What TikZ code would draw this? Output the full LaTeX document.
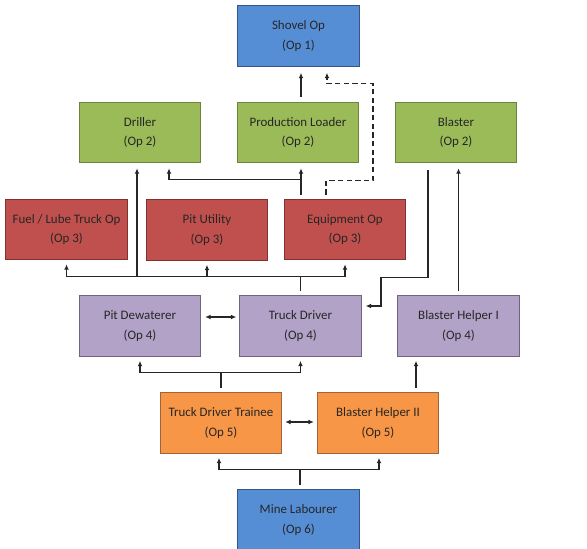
\documentclass[tikz,border=0pt]{standalone}
\usepackage{fontspec}
\setmainfont{Carlito}
\usepackage{xcolor}
\usetikzlibrary{calc,arrows.meta}

\definecolor{opblue}{RGB}{85,142,213}
\definecolor{opblueline}{RGB}{52,86,130}
\definecolor{opgreen}{RGB}{155,187,89}
\definecolor{opgreenline}{RGB}{108,130,62}
\definecolor{opred}{RGB}{192,80,77}
\definecolor{opredline}{RGB}{128,50,48}
\definecolor{oppurple}{RGB}{178,162,199}
\definecolor{oppurpleline}{RGB}{112,100,128}
\definecolor{oporange}{RGB}{247,150,70}
\definecolor{oporangeline}{RGB}{160,100,56}

\begin{document}
\begin{tikzpicture}[x=0.75pt, y=-0.75pt,
    opbox/.style={draw, line width=0.8pt, minimum width=91pt, minimum height=45.5pt,
        align=center, text=black!85, font=\fontsize{9.7}{14.5}\selectfont, inner sep=2pt},
    op1/.style={opbox, fill=opblue, draw=opblueline},
    op2/.style={opbox, fill=opgreen, draw=opgreenline},
    op3/.style={opbox, fill=opred, draw=opredline},
    op4/.style={opbox, fill=oppurple, draw=oppurpleline},
    op5/.style={opbox, fill=oporange, draw=oporangeline},
    link/.style={line width=0.9pt, black!85},
    arr/.style={link, -{Latex[length=4pt,width=3.6pt]}},
    dbl/.style={link, {Latex[length=4pt,width=3.6pt]}-{Latex[length=4pt,width=3.6pt]}},
    dasharr/.style={arr, dash pattern=on 4pt off 2.5pt}]
    \useasboundingbox (0,0) rectangle (587,549);

    \node[op1] (shovel) at (298.5,36) {Shovel Op\\(Op 1)};
    \node[op2] (driller) at (140,132.5) {Driller\\(Op 2)};
    \node[op2] (loader) at (298,132.5) {Production Loader\\(Op 2)};
    \node[op2] (blaster) at (456,132.5) {Blaster\\(Op 2)};
    \node[op3] (fuel) at (66.5,229.5) {Fuel / Lube Truck Op\\(Op 3)};
    \node[op3] (utility) at (207,230) {Pit Utility\\(Op 3)};
    \node[op3] (equip) at (345,229.5) {Equipment Op\\(Op 3)};
    \node[op4] (dewater) at (140,326) {Pit Dewaterer\\(Op 4)};
    \node[op4] (truck) at (300.5,326) {Truck Driver\\(Op 4)};
    \node[op4] (helperi) at (458.5,326) {Blaster Helper I\\(Op 4)};
    \node[op5] (trainee) at (221,423) {Truck Driver Trainee\\(Op 5)};
    \node[op5] (helperii) at (378,423) {Blaster Helper II\\(Op 5)};
    \node[op1] (labourer) at (298.5,520) {Mine Labourer\\(Op 6)};

    \draw[arr] ($(loader.north)+(3,-5)$) -- ($(loader.north |- shovel.south)+(3,6)$);
    \draw[dasharr] ($(equip.north)+(-19,-4)$) -- ++(0,-14) -- ++(47,0) -- ++(0,-97) -| ($(shovel.south)+(28.5,6)$);
    \draw[arr] ($(equip.north)+(-44,-4)$) -- ($(loader.south)+(3,5)$);
    \draw[arr] ($(loader.south)+(3,16)$) -| ($(driller.south)+(29,5)$);

    \draw[link] ($(truck.north)+(0,-4)$) -- ++(0,-15) coordinate (hubtruck);
    \draw[arr] (hubtruck) -| ($(fuel.south)+(0,4)$);
    \draw[arr] (hubtruck) -| ($(equip.south)+(0,4)$);
    \draw[arr] (hubtruck -| utility.south) -- ($(utility.south)+(0,4)$);
    \draw[arr] ($(hubtruck -| driller.south)+(-3,0)$) -- ($(driller.south)+(-3,5)$);

    \draw[arr] ($(blaster.south)+(-28,7)$) -- ++(0,107) -- ++(-47,0) |- ($(truck.east)+(4,-20)$);
    \draw[arr] ($(helperi.north)+(0,-4)$) -- ($(helperi.north |- blaster.south)+(0,5)$);
    \draw[dbl] ($(dewater.east)+(4,-9)$) -- ($(truck.west)+(-3,-9)$);

    \draw[link] ($(trainee.north)+(0,-4)$) -- ++(0,-16) coordinate (hubtrainee);
    \draw[arr] (hubtrainee) -| ($(dewater.south)+(0,4)$);
    \draw[arr] (hubtrainee) -| ($(truck.south)+(0,4)$);
    \draw[arr] ($(helperii.north)+(38,-4)$) -- ($(helperi.south)+(-42.5,4)$);
    \draw[dbl] ($(trainee.east)+(3,-1)$) -- ($(helperii.west)+(-3,-1)$);

    \draw[link] ($(labourer.north)+(1.5,-4)$) -- ++(0,-16) coordinate (hublabourer);
    \draw[arr] (hublabourer) -| ($(trainee.south)+(-2,4)$);
    \draw[arr] (hublabourer) -| ($(helperii.south)+(1,4)$);
\end{tikzpicture}
\end{document}
